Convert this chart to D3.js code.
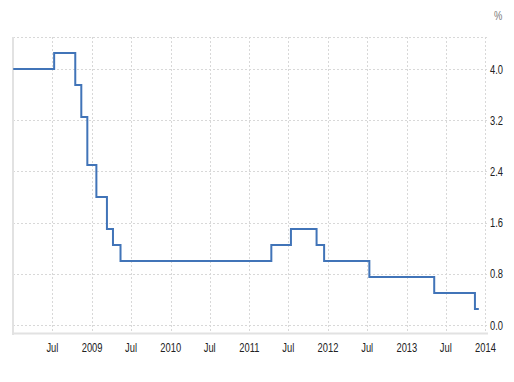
<!DOCTYPE html>
<html>
<head>
<meta charset="utf-8">
<script src="https://cdn.jsdelivr.net/npm/d3@7"></script>
<style>
  body { margin: 0; background: #fff; }
  text { font-family: "Liberation Sans Narrow", "Arial Narrow", "Liberation Sans", sans-serif; font-size: 13px; fill: #222; }
</style>
</head>
<body>
<div id="chart"></div>
<script>
// rate change dates and the rate that applies from that date
var changeDates = ["2008-01-01", "2008-07-09", "2008-10-15", "2008-11-12", "2008-12-10",
  "2009-01-21", "2009-03-11", "2009-04-08", "2009-05-13", "2011-04-13", "2011-07-13",
  "2011-11-09", "2011-12-14", "2012-07-11", "2013-05-08", "2013-11-13", "2013-12-01"];
var rates = [4.00, 4.25, 3.75, 3.25, 2.50, 2.00, 1.50, 1.25, 1.00, 1.25, 1.50,
  1.25, 1.00, 0.75, 0.50, 0.25, 0.25];
var yTicks = [0, 0.8, 1.6, 2.4, 3.2, 4.0];
var xTickDates = ["2008-07-01", "2009-01-01", "2009-07-01", "2010-01-01", "2010-07-01",
  "2011-01-01", "2011-07-01", "2012-01-01", "2012-07-01", "2013-01-01", "2013-07-01", "2014-01-01"];

var width = 514, height = 382;
var plotLeft = 13, plotRight = 487, plotTop = 37, plotBottom = 333;
var squeeze = 0.72; // narrow look of the labels
var parse = d3.timeParse("%Y-%m-%d");

var data = changeDates.map(function(d, i) { return { date: parse(d), value: rates[i] }; });
var xTicks = xTickDates.map(parse);

var x = d3.scaleTime()
  .domain([parse("2007-12-31"), parse("2014-01-08")])
  .range([plotLeft, plotRight]);
var y = d3.scaleLinear()
  .domain([-0.125, 4.5])
  .range([plotBottom, plotTop]);

var svg = d3.select("#chart").append("svg")
  .attr("width", width)
  .attr("height", height);

// horizontal grid
svg.append("g").selectAll("line")
  .data(yTicks.concat([4.5]))
  .enter().append("line")
  .attr("x1", plotLeft).attr("x2", plotRight)
  .attr("y1", function(d) { return Math.round(y(d)) + 0.5; })
  .attr("y2", function(d) { return Math.round(y(d)) + 0.5; })
  .attr("stroke", "#d8d8d8")
  .attr("stroke-dasharray", "2,2");

// vertical grid
svg.append("g").selectAll("line")
  .data(xTicks)
  .enter().append("line")
  .attr("x1", function(d) { return Math.round(x(d)) + 0.5; })
  .attr("x2", function(d) { return Math.round(x(d)) + 0.5; })
  .attr("y1", plotTop).attr("y2", plotBottom)
  .attr("stroke", "#d8d8d8")
  .attr("stroke-dasharray", "2,2");

// left and bottom borders
svg.append("line")
  .attr("x1", plotLeft).attr("x2", plotLeft)
  .attr("y1", plotTop).attr("y2", plotBottom + 2)
  .attr("stroke", "#e2e2e2").attr("stroke-width", 2);
svg.append("line")
  .attr("x1", plotLeft).attr("x2", plotRight + 1)
  .attr("y1", plotBottom + 0.5).attr("y2", plotBottom + 0.5)
  .attr("stroke", "#e2e2e2").attr("stroke-width", 2);

// y labels
svg.append("g").selectAll("text")
  .data(yTicks)
  .enter().append("text")
  .attr("transform", function(d) { return "translate(490," + y(d) + ") scale(" + squeeze + ",1)"; })
  .attr("dy", "0.35em")
  .text(function(d) { return d3.format(".1f")(d); });

svg.append("text")
  .attr("transform", "translate(494,20) scale(" + squeeze + ",1)")
  .style("fill", "#777")
  .text("%");

// x labels
svg.append("g").selectAll("text")
  .data(xTicks)
  .enter().append("text")
  .attr("transform", function(d) { return "translate(" + x(d) + ",347) scale(" + squeeze + ",1)"; })
  .attr("dy", "0.35em")
  .attr("text-anchor", "middle")
  .text(function(d) { return d.getMonth() === 0 ? d3.timeFormat("%Y")(d) : "Jul"; });

var line = d3.line()
  .x(function(d) { return x(d.date); })
  .y(function(d) { return y(d.value); })
  .curve(d3.curveStepAfter);

svg.append("path")
  .datum(data)
  .attr("d", line)
  .attr("fill", "none")
  .attr("stroke", "#4174b8")
  .attr("stroke-width", 2);
</script>
</body>
</html>
